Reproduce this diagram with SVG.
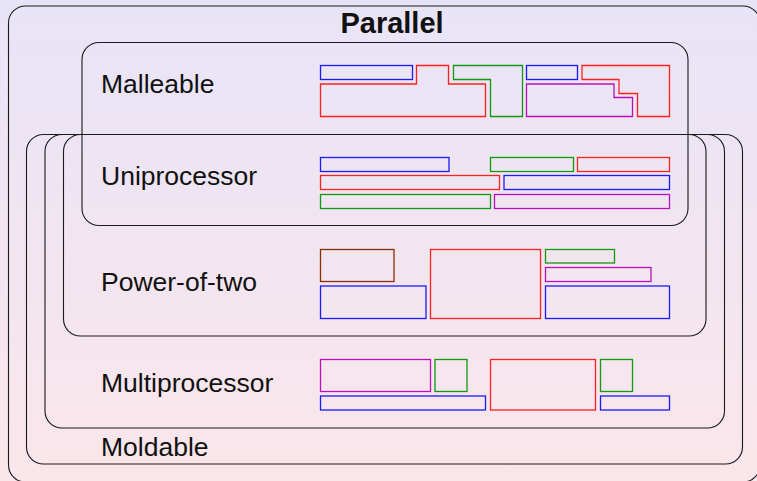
<svg xmlns="http://www.w3.org/2000/svg" width="757" height="481" viewBox="0 0 757 481">
  <defs>
    <linearGradient id="bg" x1="0" y1="0" x2="0" y2="1">
      <stop offset="0" stop-color="#e8e4f7"/>
      <stop offset="1" stop-color="#fae6ea"/>
    </linearGradient>
  </defs>
  <style>
    .frame { fill: none; stroke: #1a1a1a; stroke-width: 1.1; }
    .label { font-family: "Liberation Sans", Arial, sans-serif; font-size: 26.5px; fill: #111; }
    .title { font-family: "Liberation Sans", Arial, sans-serif; font-size: 29px; font-weight: bold; fill: #111; }
    .job { fill: none; stroke-width: 1.3; }
    .b { stroke: #1a1aff; }
    .r { stroke: #ff2020; }
    .g { stroke: #119911; }
    .m { stroke: #b810b8; }
    .br { stroke: #86300a; }
  </style>

  <rect x="0" y="0" width="757" height="481" fill="url(#bg)"/>

  <!-- nested class frames -->
  <g id="parallel">
    <rect class="frame" x="8.5" y="6" width="751.5" height="476" rx="17"/>
    <text class="title" x="392" y="33" text-anchor="middle">Parallel</text>
  </g>

  <g id="moldable">
    <rect class="frame" x="26.5" y="134.5" width="716" height="329.5" rx="17"/>
    <text class="label" x="101" y="456">Moldable</text>
  </g>

  <g id="multiprocessor">
    <rect class="frame" x="45" y="134.5" width="679.5" height="293.5" rx="17"/>
    <text class="label" x="101" y="392">Multiprocessor</text>
    <rect class="job m" x="320.5" y="359.5" width="110" height="32"/>
    <rect class="job g" x="435" y="359.5" width="32" height="32"/>
    <rect class="job b" x="320.5" y="396" width="165" height="14"/>
    <rect class="job r" x="490.5" y="359.5" width="105" height="50.5"/>
    <rect class="job g" x="600.5" y="359.5" width="32" height="32"/>
    <rect class="job b" x="600.5" y="396" width="69" height="14"/>
  </g>

  <g id="power-of-two">
    <rect class="frame" x="63.5" y="134.5" width="642.5" height="201.5" rx="17"/>
    <text class="label" x="101" y="291">Power-of-two</text>
    <rect class="job br" x="320.5" y="249.5" width="73.5" height="32"/>
    <rect class="job b" x="320.5" y="286" width="105.5" height="32.5"/>
    <rect class="job r" x="430.5" y="249.5" width="110" height="69"/>
    <rect class="job g" x="545.5" y="249.5" width="69" height="13.5"/>
    <rect class="job m" x="545.5" y="267.5" width="105.5" height="14"/>
    <rect class="job b" x="545.5" y="286" width="124" height="32.5"/>
  </g>

  <g id="uniprocessor">
    <text class="label" x="101" y="185">Uniprocessor</text>
    <rect class="job b" x="320.5" y="157.5" width="128.5" height="14"/>
    <rect class="job g" x="490.5" y="157.5" width="83" height="14"/>
    <rect class="job r" x="577.5" y="157.5" width="92" height="14"/>
    <rect class="job r" x="320.5" y="175.5" width="179" height="14"/>
    <rect class="job b" x="504" y="175.5" width="165.5" height="14"/>
    <rect class="job g" x="320.5" y="194.5" width="170" height="14"/>
    <rect class="job m" x="494.5" y="194.5" width="175" height="14"/>
  </g>

  <g id="malleable">
    <rect class="frame" x="82" y="42.5" width="606" height="183" rx="17"/>
    <text class="label" x="101" y="93">Malleable</text>
    <rect class="job b" x="320.5" y="65.5" width="92" height="14"/>
    <polygon class="job r" points="320.5,84 416.5,84 416.5,65.5 448.5,65.5 448.5,84 485.5,84 485.5,116.5 320.5,116.5"/>
    <polygon class="job g" points="453.5,65.5 522.5,65.5 522.5,116.5 490.5,116.5 490.5,79.5 453.5,79.5"/>
    <rect class="job b" x="526.5" y="65.5" width="51" height="14"/>
    <polygon class="job r" points="582,65.5 669.5,65.5 669.5,116.5 637.5,116.5 637.5,93.5 619,93.5 619,79.5 582,79.5"/>
    <polygon class="job m" points="526.5,84 614,84 614,97.5 632.5,97.5 632.5,116.5 526.5,116.5"/>
  </g>
</svg>
